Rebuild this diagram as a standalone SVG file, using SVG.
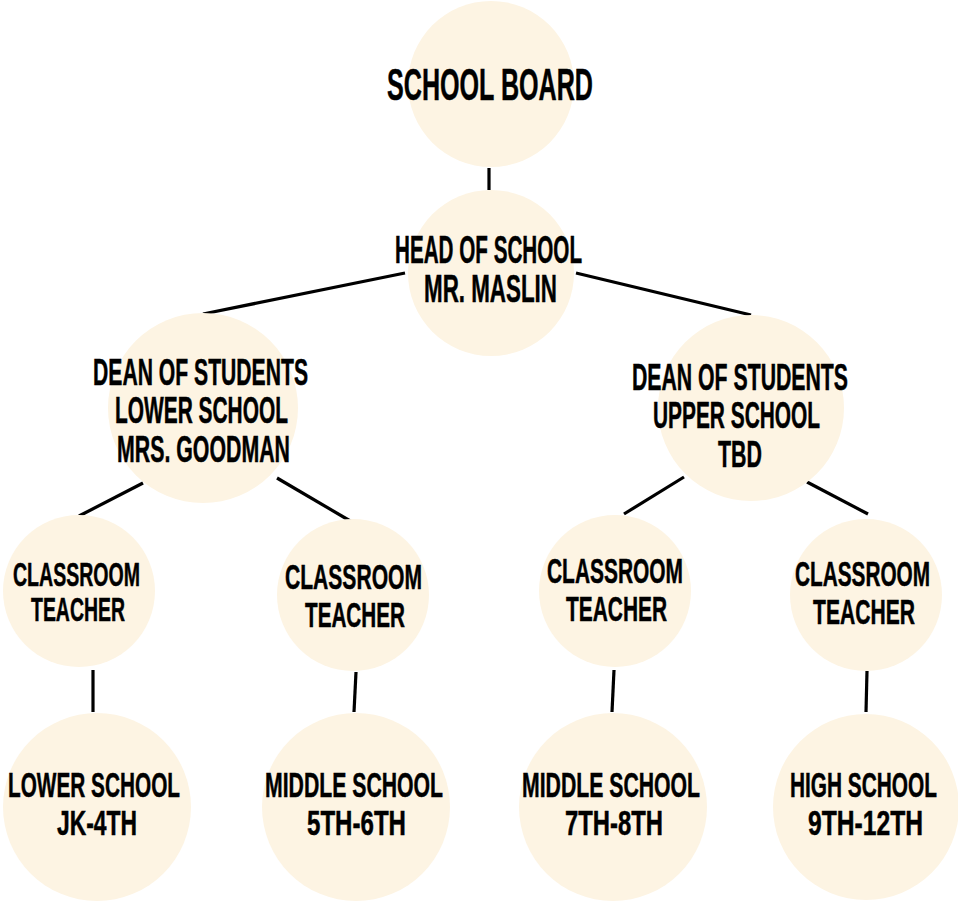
<svg xmlns="http://www.w3.org/2000/svg" width="958" height="901" viewBox="0 0 958 901">
<style>
.n{fill:#FDF4E3}
.c line{stroke:#000;stroke-width:3.2;stroke-linecap:butt}
text{font-family:"Liberation Sans Narrow","Liberation Sans","DejaVu Sans Condensed",sans-serif;font-weight:bold;fill:#000;stroke:#000;stroke-width:0.5;text-anchor:middle}
.f45{font-size:45px}.f38{font-size:38px}.f37{font-size:37px}.f35{font-size:35px}.f33{font-size:33px}
</style>
<rect width="958" height="901" fill="#fff"/>
<g id="connectors" class="c">
<line x1="489" y1="168" x2="489" y2="190"/>
<line x1="203" y1="314" x2="405" y2="273"/>
<line x1="576" y1="273" x2="751" y2="315"/>
<line x1="143" y1="483" x2="79" y2="516"/>
<line x1="277" y1="478" x2="352" y2="522"/>
<line x1="684" y1="477" x2="624" y2="514"/>
<line x1="807" y1="482" x2="868" y2="514"/>
<line x1="93" y1="670" x2="93" y2="712"/>
<line x1="356" y1="672" x2="354" y2="712"/>
<line x1="614" y1="670" x2="612" y2="712"/>
<line x1="867" y1="671" x2="866" y2="712"/>
</g>
<g id="school-board"><circle class="n" cx="491" cy="84" r="83"/>
<text class="f45" x="490" y="100" textLength="206" lengthAdjust="spacingAndGlyphs">SCHOOL BOARD</text></g>
<g id="head-of-school"><circle class="n" cx="491" cy="273" r="83"/>
<text class="f38" x="488.5" y="263" textLength="187" lengthAdjust="spacingAndGlyphs">HEAD OF SCHOOL</text>
<text class="f38" x="490.5" y="302" textLength="133" lengthAdjust="spacingAndGlyphs">MR. MASLIN</text></g>
<g id="dean-lower"><circle class="n" cx="203" cy="408" r="95"/>
<text class="f37" x="200.5" y="385" textLength="215" lengthAdjust="spacingAndGlyphs">DEAN OF STUDENTS</text>
<text class="f37" x="201.5" y="423" textLength="173" lengthAdjust="spacingAndGlyphs">LOWER SCHOOL</text>
<text class="f37" x="203.5" y="462" textLength="173" lengthAdjust="spacingAndGlyphs">MRS. GOODMAN</text></g>
<g id="dean-upper"><circle class="n" cx="751" cy="408" r="93"/>
<text class="f37" x="740" y="390" textLength="216" lengthAdjust="spacingAndGlyphs">DEAN OF STUDENTS</text>
<text class="f37" x="736.5" y="428" textLength="167" lengthAdjust="spacingAndGlyphs">UPPER SCHOOL</text>
<text class="f37" x="740" y="467" textLength="44" lengthAdjust="spacingAndGlyphs">TBD</text></g>
<g id="teacher-1"><circle class="n" cx="79" cy="591" r="76"/>
<text class="f33" x="76.5" y="586" textLength="127" lengthAdjust="spacingAndGlyphs">CLASSROOM</text>
<text class="f33" x="78" y="621" textLength="94" lengthAdjust="spacingAndGlyphs">TEACHER</text></g>
<g id="teacher-2"><circle class="n" cx="353" cy="595" r="76"/>
<text class="f35" x="353.5" y="589" textLength="137" lengthAdjust="spacingAndGlyphs">CLASSROOM</text>
<text class="f35" x="355" y="627" textLength="100" lengthAdjust="spacingAndGlyphs">TEACHER</text></g>
<g id="teacher-3"><circle class="n" cx="615" cy="591" r="76"/>
<text class="f35" x="615" y="583" textLength="136" lengthAdjust="spacingAndGlyphs">CLASSROOM</text>
<text class="f35" x="616.5" y="621" textLength="101" lengthAdjust="spacingAndGlyphs">TEACHER</text></g>
<g id="teacher-4"><circle class="n" cx="866" cy="595" r="76"/>
<text class="f35" x="862.5" y="586" textLength="135" lengthAdjust="spacingAndGlyphs">CLASSROOM</text>
<text class="f35" x="864" y="624" textLength="102" lengthAdjust="spacingAndGlyphs">TEACHER</text></g>
<g id="lower-school"><circle class="n" cx="97" cy="807" r="94"/>
<text class="f35" x="94" y="797" textLength="172" lengthAdjust="spacingAndGlyphs">LOWER SCHOOL</text>
<text class="f35" x="97" y="835" textLength="80" lengthAdjust="spacingAndGlyphs">JK-4TH</text></g>
<g id="middle-school-56"><circle class="n" cx="356" cy="807" r="94"/>
<text class="f35" x="354" y="797" textLength="178" lengthAdjust="spacingAndGlyphs">MIDDLE SCHOOL</text>
<text class="f35" x="356.5" y="835" textLength="99" lengthAdjust="spacingAndGlyphs">5TH-6TH</text></g>
<g id="middle-school-78"><circle class="n" cx="613" cy="807" r="94"/>
<text class="f35" x="611" y="797" textLength="178" lengthAdjust="spacingAndGlyphs">MIDDLE SCHOOL</text>
<text class="f35" x="614" y="835" textLength="98" lengthAdjust="spacingAndGlyphs">7TH-8TH</text></g>
<g id="high-school"><circle class="n" cx="866" cy="807" r="93"/>
<text class="f35" x="863.5" y="797" textLength="147" lengthAdjust="spacingAndGlyphs">HIGH SCHOOL</text>
<text class="f35" x="865.5" y="835" textLength="115" lengthAdjust="spacingAndGlyphs">9TH-12TH</text></g>
</svg>
